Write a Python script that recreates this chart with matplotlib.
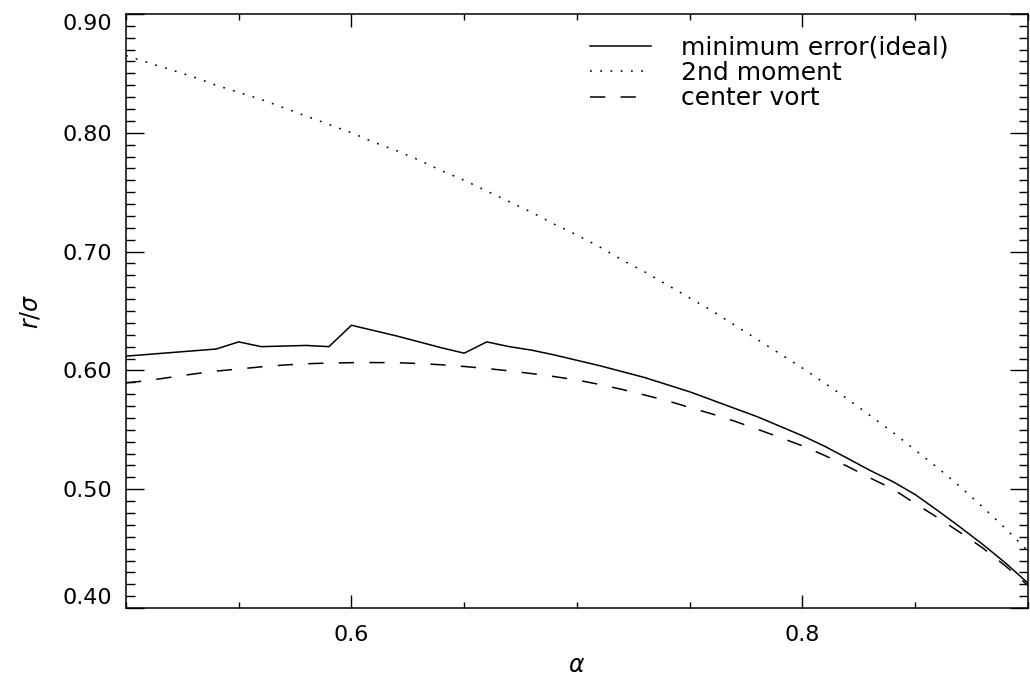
import numpy as np
import matplotlib
matplotlib.use("Agg")
import matplotlib.pyplot as plt
from matplotlib.ticker import MultipleLocator, FormatStrFormatter

alpha = np.round(np.arange(0.50, 0.9001, 0.01), 2)

min_error = [0.612, 0.6135, 0.615, 0.6165, 0.618, 0.624, 0.620, 0.6205, 0.621, 0.620,
             0.638, 0.6335, 0.629, 0.624, 0.619, 0.6145, 0.624, 0.620, 0.617, 0.613,
             0.6085, 0.604, 0.599, 0.594, 0.588, 0.582, 0.575, 0.568, 0.561, 0.553,
             0.545, 0.536, 0.526, 0.5158, 0.5065, 0.4955, 0.482, 0.468, 0.4535, 0.438,
             0.421]

second_moment = [0.865, 0.859, 0.853, 0.847, 0.840, 0.834, 0.828, 0.821, 0.814, 0.807,
                 0.800, 0.792, 0.785, 0.777, 0.768, 0.760, 0.751, 0.742, 0.733, 0.723,
                 0.714, 0.704, 0.693, 0.683, 0.672, 0.661, 0.650, 0.638, 0.626, 0.614,
                 0.602, 0.589, 0.576, 0.562, 0.548, 0.533, 0.518, 0.502, 0.485, 0.467,
                 0.448]

center_vort = [0.5895, 0.5915, 0.5943, 0.597, 0.5994, 0.6012, 0.603, 0.6045, 0.6056, 0.6062,
               0.6065, 0.6066, 0.6065, 0.6058, 0.6047, 0.6033, 0.6016, 0.5996, 0.5973, 0.5948,
               0.5919, 0.5882, 0.5840, 0.5793, 0.5745, 0.5688, 0.5633, 0.5572, 0.5505, 0.5436,
               0.5365, 0.5283, 0.5192, 0.5095, 0.5002, 0.488, 0.476, 0.4635, 0.4505, 0.4355,
               0.419]

labels = ["minimum error(ideal)", "2nd moment", "center vort"]

fig = plt.figure(figsize=(10.3, 6.78), dpi=100)
ax = fig.add_axes([0.1223, 0.1032, 0.8757, 0.8762])

ax.plot(alpha, min_error, color="black", lw=1.1, label=labels[0])
ax.plot(alpha, second_moment, color="black", lw=1.1, linestyle=(0, (1.2, 5.5)), label=labels[1])
ax.plot(alpha, center_vort, color="black", lw=1.1, linestyle=(0, (10, 10)), label=labels[2])

ax.set_xlim(0.5, 0.9)
ax.set_ylim(0.40, 0.90)

ax.xaxis.set_major_locator(MultipleLocator(0.2))
ax.xaxis.set_minor_locator(MultipleLocator(0.05))
ax.xaxis.set_major_formatter(FormatStrFormatter("%.1f"))
ax.yaxis.set_major_locator(MultipleLocator(0.1))
ax.yaxis.set_minor_locator(MultipleLocator(0.01))
ax.yaxis.set_major_formatter(FormatStrFormatter("%.2f"))

ax.tick_params(axis="both", which="both", direction="in", top=True, right=True,
               colors="black", labelsize=16, width=1.0)
ax.tick_params(axis="y", which="major", length=13, pad=10)
ax.tick_params(axis="y", which="minor", length=6.5)
ax.tick_params(axis="x", which="major", length=9.5, pad=12)
ax.tick_params(axis="x", which="minor", length=4.5)

for s in ax.spines.values():
    s.set_linewidth(1.1)

ax.set_xlabel(r"$\alpha$", fontsize=17, labelpad=6)
ax.set_ylabel(r"$r/\sigma$", fontsize=17, labelpad=14)

leg = ax.legend(loc="upper right", bbox_to_anchor=(0.912, 0.963), frameon=False,
                borderpad=0, borderaxespad=0,
                fontsize=18, handlelength=2.45, handletextpad=1.2, labelspacing=0.05)

# top and bottom y labels sit inside the axis range, as in the original
fig.canvas.draw()
for tick in ax.yaxis.get_major_ticks():
    val = tick.get_loc()
    if abs(val - 0.90) < 1e-6:
        tick.label1.set_verticalalignment("top")
    elif abs(val - 0.40) < 1e-6:
        tick.label1.set_verticalalignment("bottom")

fig.savefig("out.png", dpi=100)
